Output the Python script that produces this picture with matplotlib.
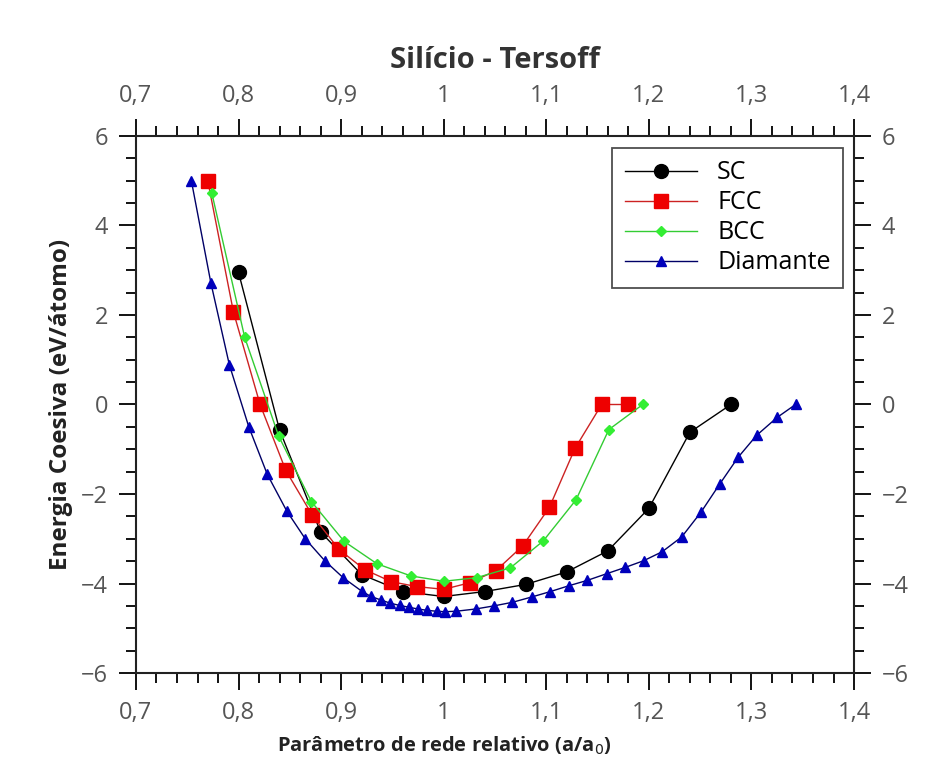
import numpy as np
import matplotlib
matplotlib.use("Agg")
import matplotlib.pyplot as plt
from matplotlib.ticker import MultipleLocator, FuncFormatter

plt.rcParams['font.family'] = ['Open Sans', 'DejaVu Sans']

# dados
sc_x = [0.80, 0.84, 0.88, 0.92, 0.96, 1.00, 1.04, 1.08, 1.12, 1.16, 1.20, 1.24, 1.28]
sc_y = [2.95, -0.57, -2.85, -3.80, -4.18, -4.29, -4.18, -4.02, -3.74, -3.27, -2.32, -0.62, 0.0]

fcc_x = [0.770, 0.795, 0.821, 0.846, 0.872, 0.898, 0.923, 0.949, 0.974, 1.000,
         1.026, 1.051, 1.077, 1.103, 1.128, 1.154, 1.180]
fcc_y = [5.0, 2.07, 0.0, -1.47, -2.48, -3.24, -3.69, -3.96, -4.07, -4.13,
         -3.98, -3.71, -3.16, -2.30, -0.98, 0.0, 0.0]

bcc_x = [0.774, 0.806, 0.839, 0.871, 0.903, 0.935, 0.968, 1.000, 1.032, 1.065,
         1.097, 1.129, 1.161, 1.194]
bcc_y = [4.72, 1.50, -0.70, -2.17, -3.06, -3.56, -3.83, -3.95, -3.87, -3.65,
         -3.05, -2.13, -0.56, 0.0]

dia_x = [0.754, 0.773, 0.791, 0.810, 0.828, 0.847, 0.865, 0.884, 0.902, 0.920,
         0.929, 0.939, 0.948, 0.957, 0.966, 0.975, 0.984, 0.993, 1.001, 1.012,
         1.031, 1.049, 1.067, 1.086, 1.104, 1.122, 1.140, 1.159, 1.177, 1.195,
         1.213, 1.232, 1.251, 1.269, 1.287, 1.305, 1.325, 1.343]
dia_y = [5.0, 2.72, 0.89, -0.50, -1.56, -2.38, -3.00, -3.49, -3.87, -4.17,
         -4.29, -4.37, -4.44, -4.49, -4.53, -4.57, -4.60, -4.62, -4.63, -4.62,
         -4.57, -4.50, -4.42, -4.30, -4.18, -4.05, -3.93, -3.78, -3.64, -3.49,
         -3.29, -2.96, -2.40, -1.78, -1.18, -0.69, -0.29, 0.0]

fig = plt.figure(figsize=(9.39, 7.64), dpi=100)
ax = fig.add_axes([0.1448, 0.1191, 0.7647, 0.7029])

ax.plot(sc_x, sc_y, '-o', color='black', lw=1.0, ms=10, label='SC')
ax.plot(fcc_x, fcc_y, '-s', color='#cc2222', mfc='#ee0000', mec='#ee0000', lw=1.0, ms=9.5, label='FCC')
ax.plot(bcc_x, bcc_y, '-D', color='#33cc33', mfc='#33ee33', mec='#33ee33', lw=1.0, ms=5.5, label='BCC')
ax.plot(dia_x, dia_y, '-^', color='#000066', mfc='#0000bb', mec='#0000bb', lw=1.0, ms=7.5, label='Diamante')

ax.set_xlim(0.7, 1.4)
ax.set_ylim(-6, 6)

def fmt(v, pos):
    s = f"{v:g}".replace('.', ',')
    return s.replace('-', '\u2212')

ax.xaxis.set_major_locator(MultipleLocator(0.1))
ax.xaxis.set_minor_locator(MultipleLocator(0.02))
ax.yaxis.set_major_locator(MultipleLocator(2))
ax.yaxis.set_minor_locator(MultipleLocator(0.5))
ax.xaxis.set_major_formatter(FuncFormatter(fmt))
ax.yaxis.set_major_formatter(FuncFormatter(fmt))

ax.tick_params(which='both', direction='out', width=1.3, labelsize=17, labelcolor='#555555',
               top=True, right=True, labeltop=True, labelright=True)
ax.tick_params(which='major', length=12, pad=8)
ax.tick_params(which='minor', length=7)
for sp in ax.spines.values():
    sp.set_linewidth(1.5)
    sp.set_color('#222222')

ax.set_xlabel('Parâmetro de rede relativo (a/a$_0$)', fontsize=14.5, fontweight='bold', color='#222222', labelpad=4)
ax.xaxis.set_label_coords(0.43, -0.115)
ax.set_ylabel('Energia Coesiva (eV/átomo)', fontsize=17.5, fontweight='bold', color='#222222', labelpad=6)
ax.set_title('Silício - Tersoff', fontsize=21, fontweight='bold', color='#333333', pad=12)

leg = ax.legend(loc='upper right', bbox_to_anchor=(0.9847, 0.9777), borderaxespad=0,
                fontsize=18, frameon=True, fancybox=False, edgecolor='#222222',
                handlelength=2.9, borderpad=0.5, labelspacing=0.2, handletextpad=0.8)
leg.get_frame().set_linewidth(1.3)

fig.savefig('out.png', dpi=100)
